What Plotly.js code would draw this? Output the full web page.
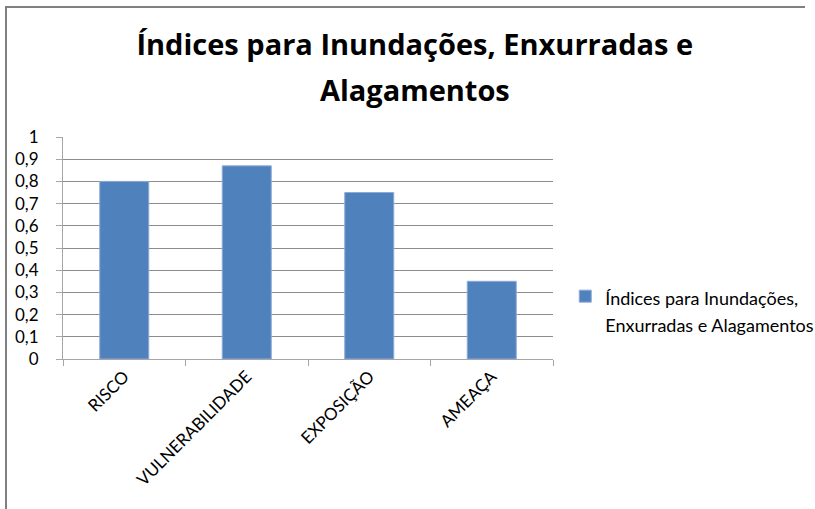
<!DOCTYPE html>
<html>
<head>
<meta charset="utf-8">
<script src="https://cdn.plot.ly/plotly-3.0.1.min.js"></script>
<style>
html,body{margin:0;padding:0;background:#fff;overflow:hidden;width:815px;height:509px;}
#frame{position:absolute;left:0;top:0;width:815px;height:509px;}
#chart{position:absolute;left:0;top:0;width:815px;height:509px;}
</style>
</head>
<body>
<svg id="frame" width="815" height="509" xmlns="http://www.w3.org/2000/svg">
  <polyline points="6,509 6,7 805,7" fill="none" stroke="#808080" stroke-width="2"/>
</svg>
<div id="chart"></div>
<script>
var categories = ["RISCO", "VULNERABILIDADE", "EXPOSIÇÃO", "AMEAÇA"];
var values = [0.8, 0.87, 0.75, 0.35];
var seriesNameLines = ["Índices para Inundações,", "Enxurradas e Alagamentos"];
var titleLines = ["Índices para Inundações, Enxurradas e", "Alagamentos"];

var FONT = "Lato, 'Open Sans', sans-serif";
var TFONT = "'Open Sans', Lato, sans-serif";

var trace = {
  type: "bar",
  x: categories,
  y: values,
  name: seriesNameLines.map(function (s) {
    return '<span style="font-size:18px">' + s + '</span>';
  }).join("<br>"),
  marker: {color: "#4f81bd", line: {color: "#8eaad6", width: 1}},
  showlegend: true
};

var titleText = titleLines.map(function (s) {
  return '<span style="font-size:29px"><b>' + s + '</b></span>';
}).join("<br>");

var layout = {
  width: 815,
  height: 509,
  paper_bgcolor: "rgba(0,0,0,0)",
  plot_bgcolor: "rgba(0,0,0,0)",
  margin: {l: 63, r: 262, t: 137, b: 150, autoexpand: false},
  separators: ",.",
  bargap: 0.6,
  font: {family: FONT, size: 17, color: "#000"},
  title: {
    text: titleText,
    font: {family: TFONT, size: 35, color: "#000"},
    x: 0.509, xanchor: "center",
    y: 0.891, yanchor: "middle"
  },
  xaxis: {
    type: "category",
    tickangle: -45,
    showgrid: false,
    showline: true,
    linecolor: "#a6a6a6",
    linewidth: 1,
    ticks: "outside",
    ticklen: 6,
    tickcolor: "#a6a6a6",
    tickson: "boundaries",
    automargin: false,
    tickfont: {family: FONT, size: 17, color: "#000"}
  },
  yaxis: {
    range: [0, 1],
    dtick: 0.1,
    tick0: 0,
    showgrid: true,
    gridcolor: "#8c8c8c",
    gridwidth: 1,
    showline: true,
    linecolor: "#a6a6a6",
    ticks: "outside",
    ticklen: 6,
    tickcolor: "#a6a6a6",
    ticklabelstandoff: 14,
    zeroline: false,
    automargin: false,
    tickfont: {family: FONT, size: 17, color: "#000"}
  },
  legend: {
    x: 1.025, xanchor: "left",
    y: 0.22, yanchor: "middle",
    valign: "top",
    font: {family: FONT, size: 21.5, color: "#000"},
    bgcolor: "rgba(0,0,0,0)"
  }
};

Plotly.newPlot("chart", [trace], layout, {displayModeBar: false, staticPlot: true});
</script>
</body>
</html>
